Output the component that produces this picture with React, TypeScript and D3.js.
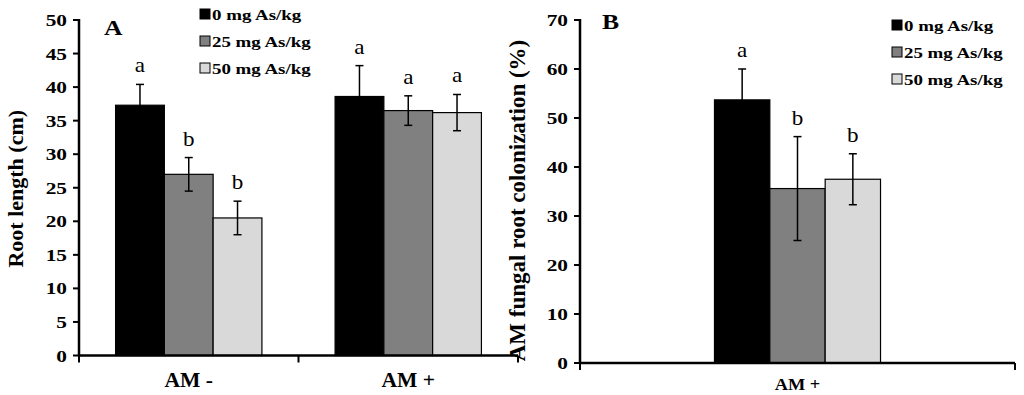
import React from "react";
import * as d3 from "d3";

// doses (legend) and bar fills
const doses = ["0 mg As/kg", "25 mg As/kg", "50 mg As/kg"];
const fills = ["#000000", "#808080", "#d9d9d9"];

// panel A: root length (cm)
const rootGroups = ["AM -", "AM +"];
const rootMeans = [
  [37.3, 27.0, 20.5],
  [38.6, 36.5, 36.2],
];
const rootErrors = [
  [3.1, 2.5, 2.5],
  [4.6, 2.2, 2.7],
];
const rootLetters = [
  ["a", "b", "b"],
  ["a", "a", "a"],
];
const rootTicks = [0, 5, 10, 15, 20, 25, 30, 35, 40, 45, 50];

// panel B: AM fungal root colonization (%)
const colGroups = ["AM +"];
const colMeans = [[53.7, 35.6, 37.5]];
const colErrors = [[6.3, 10.6, 5.2]];
const colLetters = [["a", "b", "b"]];
const colTicks = [0, 10, 20, 30, 40, 50, 60, 70];

const SERIF = "Liberation Serif, Times New Roman, serif";
const SX = 1.22; // the figure is stretched sideways

function Txt({ x, y, children, anchor = "start", size = 17, bold = true, sx = SX }) {
  return (
    <text
      transform={`translate(${x},${y}) scale(${sx},1)`}
      textAnchor={anchor}
      style={{ fontFamily: SERIF, fontSize: size, fontWeight: bold ? "bold" : "normal" }}
      fill="#000"
    >
      {children}
    </text>
  );
}

function Panel({ groups, means, errors, letters, ticks, yMax, x0, x1, y0, y1, pad, title, titleX, titleDy, titleSize, label, labelPos, legendPos, xLabelSize, xLabelY }) {
  const x = d3.scaleBand().domain(groups).range([x0, x1]).padding(0);
  const inner = d3.scaleBand().domain(doses).range([0, x.bandwidth()]).paddingInner(0).paddingOuter(pad);
  const y = d3.scaleLinear().domain([0, yMax]).range([y0, y1]);
  const bounds = [x0, ...groups.map((g) => (x(g) as number) + x.bandwidth())];

  return (
    <g>
      {/* bars */}
      {groups.map((g, gi) =>
        doses.map((d, di) => {
          const bx = (x(g) as number) + (inner(d) as number);
          const v = means[gi][di];
          const e = errors[gi][di];
          const cx = bx + inner.bandwidth() / 2;
          return (
            <g key={g + d}>
              <rect x={bx} y={y(v)} width={inner.bandwidth()} height={y(0) - y(v)} fill={fills[di]} stroke="#000" strokeWidth={1.2} />
              <line x1={cx} x2={cx} y1={y(v + e)} y2={y(v - e)} stroke="#000" strokeWidth={1.5} />
              <line x1={cx - 4} x2={cx + 4} y1={y(v + e)} y2={y(v + e)} stroke="#000" strokeWidth={1.5} />
              <line x1={cx - 4} x2={cx + 4} y1={y(v - e)} y2={y(v - e)} stroke="#000" strokeWidth={1.5} />
              <Txt x={cx} y={y(v + e) - 12} anchor="middle" size={21} bold={false} sx={1.1}>
                {letters[gi][di]}
              </Txt>
            </g>
          );
        })
      )}

      {/* y axis */}
      <line x1={x0} x2={x0} y1={y(yMax) - 1} y2={y(0) + 1} stroke="#000" strokeWidth={2.5} />
      {ticks.map((t) => (
        <g key={t}>
          <line x1={x0 - 6} x2={x0} y1={y(t)} y2={y(t)} stroke="#000" strokeWidth={2} />
          <Txt x={x0 - 12} y={y(t) + 6} anchor="end" size={17.5}>
            {t}
          </Txt>
        </g>
      ))}

      {/* x axis */}
      <line x1={x0} x2={x1} y1={y(0)} y2={y(0)} stroke="#000" strokeWidth={2.5} />
      {bounds.map((b, i) => (
        <line key={i} x1={b} x2={b} y1={y(0)} y2={y(0) + 7} stroke="#000" strokeWidth={2} />
      ))}
      {groups.map((g) => (
        <Txt key={g} x={(x(g) as number) + x.bandwidth() / 2} y={xLabelY} anchor="middle" size={xLabelSize} sx={1.08}>
          {g}
        </Txt>
      ))}

      {/* y title */}
      <text
        transform={`translate(${titleX},${(y(0) + y(yMax)) / 2 + titleDy}) rotate(-90)`}
        textAnchor="middle"
        style={{ fontFamily: SERIF, fontSize: titleSize, fontWeight: "bold" }}
      >
        {title}
      </text>

      {/* panel letter */}
      <Txt x={labelPos[0]} y={labelPos[1]} size={21}>
        {label}
      </Txt>

      {/* legend */}
      {doses.map((d, i) => (
        <g key={d}>
          <rect x={legendPos[0]} y={legendPos[1] + i * 27 - 5} width={10} height={10} fill={fills[i]} stroke="#000" strokeWidth={1} />
          <Txt x={legendPos[0] + 12} y={legendPos[1] + i * 27 + 5.5} size={15.5}>
            {d}
          </Txt>
        </g>
      ))}
    </g>
  );
}

export default function App() {
  return (
    <svg width={1024} height={395} style={{ position: "absolute", left: 0, top: 0, background: "#fff" }}>
      <Panel
        groups={rootGroups}
        means={rootMeans}
        errors={rootErrors}
        letters={rootLetters}
        ticks={rootTicks}
        yMax={50}
        x0={79}
        x1={518}
        y0={355.5}
        y1={20}
        pad={0.75}
        title="Root length (cm)"
        titleX={23}
        titleDy={1}
        titleSize={22}
        label="A"
        labelPos={[104, 35]}
        legendPos={[200, 14]}
        xLabelSize={20}
        xLabelY={387}
      />
      <Panel
        groups={colGroups}
        means={colMeans}
        errors={colErrors}
        letters={colLetters}
        ticks={colTicks}
        yMax={70}
        x0={580}
        x1={1015}
        y0={363}
        y1={20}
        pad={2.43}
        title="AM fungal root colonization (%)"
        titleX={525}
        titleDy={9}
        titleSize={23}
        label="B"
        labelPos={[602, 29]}
        legendPos={[892, 25]}
        xLabelSize={17}
        xLabelY={390}
      />
    </svg>
  );
}
